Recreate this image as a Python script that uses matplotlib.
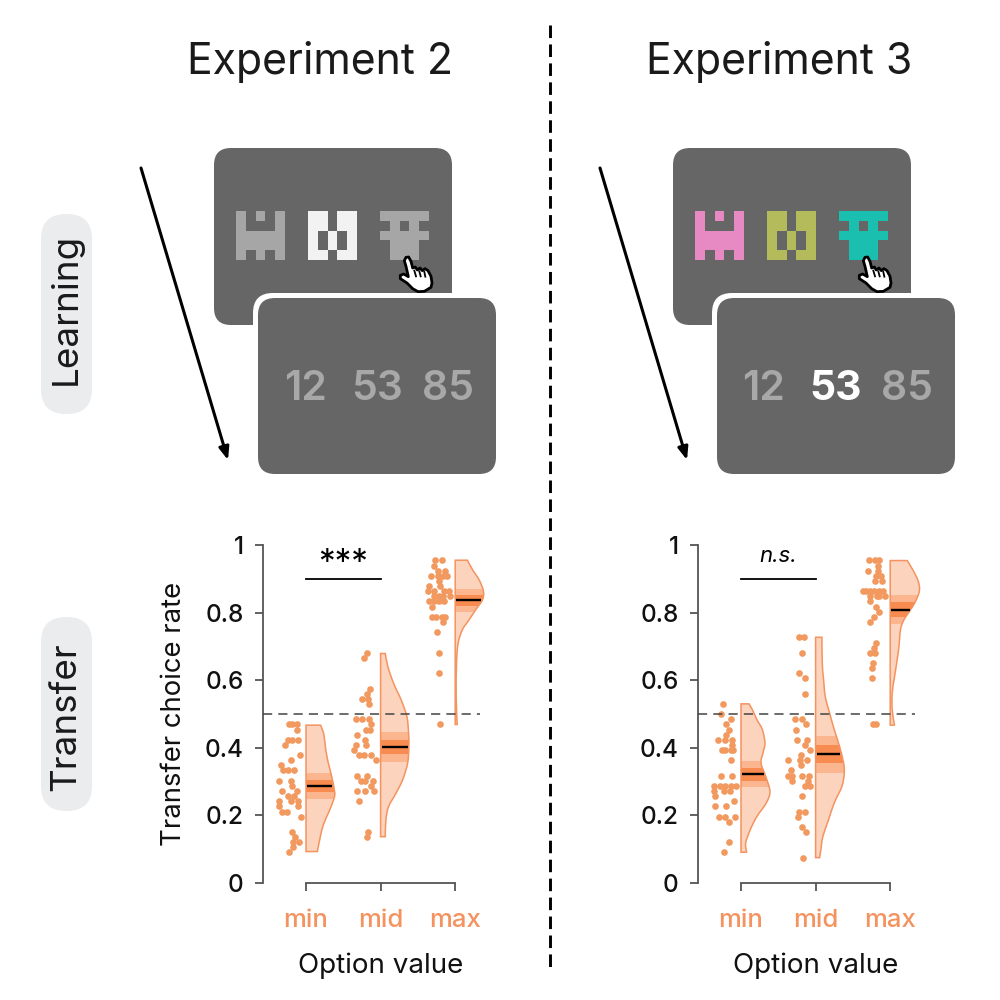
import matplotlib
matplotlib.use('Agg')
import matplotlib.pyplot as plt
import numpy as np
from matplotlib.patches import FancyBboxPatch, Polygon, PathPatch, Rectangle
from matplotlib.path import Path

plt.rcParams['font.family'] = ['Inter', 'DejaVu Sans']

# datos - experimento 2
exp2_min_x = [-.232, -.183, -.116, -.125, -.246, -.183, -.112, -.281, -.076, -.196, -.330, -.308, -.237, -.161,
              -.357, -.201, -.188, -.321, -.116, -.241, -.161, -.366, -.205, -.103, -.362, -.112, -.321, -.259,
              -.0625, -.183, -.152, -.179, -.094, -.170, -.223]
exp2_min_y = [.469, .469, .469, .454, .423, .423, .423, .408, .378, .363, .348, .333, .333, .333,
              .303, .303, .287, .272, .272, .257, .257, .242, .242, .242, .227, .227, .211, .211,
              .196, .151, .136, .120, .120, .106, .091]
exp2_mid_x = [-.183, -.228, -.147, -.1875, -.254, -.174, -.161, -.335, -.246, -.161, -.134, -.201, -.143, -.317,
              -.21, -.326, -.201, -.353, -.286, -.223, -.134, -.067, -.321, -.179, -.268, -.205, -.098, -.125,
              -.317, -.214, -.085, -.295, -.174, -.1875]
exp2_mid_y = [.681, .666, .575, .560, .545, .545, .530, .484, .484, .484, .469, .454, .454, .439,
              .424, .408, .408, .393, .378, .378, .378, .363, .318, .318, .303, .303, .303, .287,
              .272, .272, .272, .242, .151, .136]
exp2_max_x = [-.272, -.183, -.281, -.228, -.143, -.330, -.228, -.170, -.116, -.223, -.357, -.210, -.371, -.281,
              -.156, -.089, -.290, -.223, -.161, -.067, -.357, -.286, -.223, -.152, -.3125, -.317, -.254, -.183,
              -.134, -.170, -.25, -.214, -.214, -.210]
exp2_max_y = [.955, .955, .939, .924, .924, .908, .908, .908, .908, .893, .879, .879, .863, .863,
              .863, .863, .848, .848, .848, .848, .833, .833, .833, .833, .818, .787, .787, .787,
              .787, .772, .742, .681, .620, .469]

# datos - experimento 3
exp3_min_x = [-.241, -.263, -.134, -.201, -.165, -.205, -.304, -.210, -.125, -.116, -.254, -.210, -.134, -.107,
              -.138, -.272, -.125, -.362, -.277, -.214, -.134, -.067, -.357, -.228, -.143, -.353, -.098, -.344,
              -.201, -.299, -.214, -.085, -.156, -.156, -.223]
exp3_min_y = [.530, .500, .484, .469, .454, .439, .424, .424, .424, .408, .393, .393, .393, .393,
              .363, .318, .318, .287, .287, .287, .287, .287, .272, .272, .272, .257, .242, .227,
              .227, .196, .196, .196, .181, .120, .091]
exp3_mid_x = [-.223, -.152, -.187, -.223, -.147, -.147, -.277, -.187, -.125, -.268, -.25, -.121, -.143, -.076,
              -.192, -.366, -.205, -.116, -.196, -.335, -.375, -.321, -.179, -.094, -.321, -.098, -.138, -.071,
              -.187, -.223, -.147, -.232, -.187, -.125, -.174]
exp3_mid_y = [.727, .727, .681, .620, .606, .560, .484, .484, .469, .454, .424, .424, .408, .393,
              .378, .363, .363, .363, .348, .333, .318, .318, .318, .318, .303, .303, .287, .287,
              .257, .211, .211, .196, .166, .151, .075]
exp3_max_x = [-.281, -.210, -.147, -.170, -.299, -.161, -.196, -.129, -.210, -.112, -.366, -.330, -.272, -.219,
              -.156, -.103, -.268, -.174, -.152, -.067, -.277, -.196, -.156, -.214, -.277, -.196, -.223, -.272,
              -.201, -.237, -.246, -.241, -.228, -.192]
exp3_max_y = [.955, .955, .955, .939, .924, .924, .908, .908, .893, .893, .863, .863, .863, .863,
              .863, .863, .848, .848, .848, .848, .833, .818, .803, .787, .772, .711, .696, .681,
              .681, .651, .636, .606, .469, .469]

# perfiles de los violines
exp2_min_vy = [.467, .453, .438, .398, .359, .320, .270, .250, .211, .172, .132, .093]
exp2_min_vw = [.196, .220, .241, .263, .295, .339, .384, .375, .308, .232, .1875, .152]
exp2_mid_vy = [.679, .640, .591, .541, .492, .443, .403, .354, .305, .265, .226, .186, .137]
exp2_mid_vw = [.0625, .098, .174, .277, .353, .375, .379, .362, .295, .205, .107, .071, .0625]
exp2_max_vy = [.955, .927, .897, .863, .838, .809, .779, .750, .710, .651, .552, .469]
exp2_max_vw = [.165, .232, .321, .379, .366, .277, .1875, .098, .040, .018, .013, .027]
exp3_min_vy = [.530, .513, .483, .454, .414, .385, .355, .316, .271, .237, .197, .158, .118, .091]
exp3_min_vw = [.107, .152, .214, .286, .321, .295, .268, .330, .388, .339, .214, .125, .0625, .076]
exp3_mid_vy = [.727, .651, .602, .552, .503, .454, .404, .355, .325, .286, .237, .187, .138, .099, .075]
exp3_mid_vw = [.085, .089, .107, .129, .1875, .25, .321, .375, .384, .353, .25, .174, .098, .071, .054]
exp3_max_vy = [.954, .926, .896, .867, .837, .808, .778, .749, .689, .610, .561, .512, .467]
exp3_max_vw = [.228, .304, .371, .393, .348, .272, .183, .138, .112, .058, .027, .027, .058]

# media, error estandar, intervalo
exp2_means = [.288, .402, .836]
exp2_sem = [.018, .020, .017]
exp2_ci = [.038, .045, .034]
exp3_means = [.322, .381, .809]
exp3_sem = [.019, .027, .022]
exp3_ci = [.038, .055, .043]

conditions = ['min', 'mid', 'max']
y_ticks = [0, .2, .4, .6, .8, 1]
y_labels = ['0', '0.2', '0.4', '0.6', '0.8', '1']

ORANGE = '#f4935f'
FILL = '#fcd3bd'
LIGHT = '#fbb68f'
DARK = '#f78b50'
DOT = '#f2995f'
TEXTO = '#111111'


def curva(xs, ys):
    # catmull-rom pasado a bezier, pasa por los puntos dados
    pts = np.column_stack([xs, ys])
    verts = [pts[0]]
    for i in range(len(pts) - 1):
        p0 = pts[max(i - 1, 0)]
        p1 = pts[i]
        p2 = pts[i + 1]
        p3 = pts[min(i + 2, len(pts) - 1)]
        verts.append(p1 + (p2 - p0) / 6)
        verts.append(p2 - (p3 - p1) / 6)
        verts.append(p2)
    return verts


def dibujar_violin(ax, pos, vy, vw, mean, sem, ci):
    vx = [pos + w for w in vw]
    verts = [(pos, vy[0])] + curva(vx, vy) + [(pos, vy[-1]), (pos, vy[0])]
    codes = [Path.MOVETO, Path.LINETO] + [Path.CURVE4] * (3 * (len(vy) - 1)) + [Path.LINETO, Path.CLOSEPOLY]
    path = Path(verts, codes)
    ax.add_patch(PathPatch(path, facecolor=FILL, edgecolor='none', zorder=2))
    for half, col in ((ci, LIGHT), (sem, DARK)):
        r = Rectangle((pos, mean - half), .5, 2 * half, facecolor=col, edgecolor='none', zorder=3)
        ax.add_patch(r)
        r.set_clip_path(PathPatch(path, transform=ax.transData))
    ax.add_patch(PathPatch(path, facecolor='none', edgecolor=ORANGE, lw=1.1, zorder=4))
    ancho = np.interp(mean, vy[::-1], vw[::-1])
    ax.plot([pos + .015, pos + ancho - .015], [mean, mean], color='black', lw=1.7, zorder=5, solid_capstyle='butt')


def panel(x_px, datos, means, sem, ci, sig, sig_style):
    # x_px = pixel de la posicion 0 del eje x
    paso = 74.6
    izq = x_px - 43
    der = x_px + 200
    ax = fig.add_axes([izq / 1000, 1 - 883 / 1000, (der - izq) / 1000, 338 / 1000])
    ax.set_xlim(-43 / paso, 200 / paso)
    ax.set_ylim(0, 1)
    ax.patch.set_alpha(0)
    for i, (dx, dy, vy, vw) in enumerate(datos):
        ax.scatter(np.array(dx) + i, dy, s=23, color=DOT, linewidths=0, zorder=3)
        dibujar_violin(ax, i, vy, vw, means[i], sem[i], ci[i])
    ax.plot([-43 / paso, 174 / paso], [.5, .5], color='#444444', lw=1.1, dashes=(6, 4), zorder=6)
    ax.plot([0, 1], [.899, .899], color='black', lw=1.3)
    ax.text(.5, sig[1], sig[0], ha='center', va='center', clip_on=False, **sig_style)
    for s in ('top', 'right'):
        ax.spines[s].set_visible(False)
    for s in ('left', 'bottom'):
        ax.spines[s].set_color('#555555')
        ax.spines[s].set_linewidth(1.3)
    ax.spines['bottom'].set_bounds(0, 2)
    ax.set_yticks(y_ticks)
    ax.set_yticklabels(y_labels, fontsize=17.5, color=TEXTO, fontweight='medium')
    ax.set_xticks([0, 1, 2])
    ax.set_xticklabels(conditions, fontsize=18.5, color=ORANGE, fontweight='medium')
    ax.tick_params(axis='y', length=6, width=1.3, color='#555555', pad=8)
    ax.tick_params(axis='x', length=6, width=1.3, color='#555555', pad=13)
    ax.text(1, -.245, 'Option value', ha='center', va='center', fontsize=20, color=TEXTO,
            transform=ax.get_xaxis_transform())
    return ax


fig = plt.figure(figsize=(10, 10), dpi=100)
fondo = fig.add_axes([0, 0, 1, 1])
fondo.axis('off')

# linea central
fondo.plot([550, 550], [25, 972], color='black', lw=2.1, dashes=(4.3, 2.2))

# titulos
fondo.text(320, 62, 'Experiment 2', ha='center', va='center', fontsize=30.8, color='#1a1a1a')
fondo.text(779, 62, 'Experiment 3', ha='center', va='center', fontsize=30.8, color='#1a1a1a')

# etiquetas laterales
for y0, y1, y_txt, txt in ((214, 414, 309, 'Learning'), (617, 811, 717, 'Transfer')):
    fondo.add_patch(FancyBboxPatch((41 + 25, y0 + 25), 1, y1 - y0 - 50, boxstyle='round,pad=25,rounding_size=25',
                                   facecolor='#ebecee', edgecolor='none'))
    fondo.text(66, y_txt, txt, rotation=90, ha='center', va='center', fontsize=26.5, color='#1a1a1a')

fondo.text(174, 714, 'Transfer choice rate', rotation=90, ha='center', va='center', fontsize=19.8, color=TEXTO)

PATRONES = [
    [[1, 0, 1, 0, 1], [1, 0, 0, 0, 1], [1, 1, 1, 1, 1], [1, 1, 1, 1, 1], [1, 0, 1, 0, 1]],
    [[1, 1, 0, 1, 1], [1, 1, 0, 1, 1], [1, 0, 1, 0, 1], [1, 0, 1, 0, 1], [1, 1, 0, 1, 1]],
    [[1, 1, 1, 1, 1], [0, 1, 0, 1, 0], [1, 1, 1, 1, 1], [0, 1, 1, 1, 0], [0, 1, 1, 1, 0]],
]


def mano(dx):
    pts = [(42, 28), (50, 27), (57, 40), (62, 60), (70, 57), (76, 66), (84, 60), (91, 68), (99, 62), (108, 68),
           (117, 85), (120, 105), (117, 118), (97, 130), (78, 131), (62, 122), (45, 105), (25, 92), (25, 82),
           (35, 78), (49, 86), (42, 55), (37, 38)]
    pts = [(392 + dx + a / 3, 248 + b / 3) for a, b in pts]
    fondo.add_patch(Polygon(pts, closed=True, facecolor='white', edgecolor='black', lw=2, joinstyle='round', zorder=8))
    for (a, b, c, d) in ((67, 68, 72, 85), (82, 70, 86, 85), (97, 72, 100, 86)):
        fondo.plot([392 + dx + a / 3, 392 + dx + c / 3], [248 + b / 3, 248 + d / 3], color='black', lw=1.3, zorder=9)


def rect_redondo(x0, y0, w, h, radio, col, z):
    fondo.add_patch(FancyBboxPatch((x0 + radio, y0 + radio), w - 2 * radio, h - 2 * radio,
                                   boxstyle='round,pad=%g,rounding_size=%g' % (radio, radio),
                                   facecolor=col, edgecolor='none', zorder=z))


def pantallas(dx, colores, medio_blanco):
    rect_redondo(214 + dx, 148, 238, 177, 17, '#666666', 2)
    rect_redondo(253 + dx, 293, 248, 186, 20, 'white', 3)
    rect_redondo(258 + dx, 298, 238, 176, 17, '#666666', 3)
    for x0, pat, col in zip((236.3, 308.3, 380.3), PATRONES, colores):
        rgba = np.zeros((5, 5, 4))
        rgba[np.array(pat) == 1] = matplotlib.colors.to_rgba(col)
        fondo.imshow(rgba, extent=(x0 + dx, x0 + dx + 49, 260.5, 212), interpolation='nearest', aspect='auto', zorder=4)
    for x0, num in zip((305, 377, 448), ('12', '53', '85')):
        blanco = medio_blanco and num == '53'
        fondo.text(x0 + dx, 389, num, ha='center', va='center', fontsize=29.5, fontweight='bold' if blanco else 'semibold',
                   color='white' if blanco else '#a8a8a8', zorder=5)
    fondo.annotate('', xy=(228 + dx, 460), xytext=(141 + dx, 168),
                   arrowprops=dict(arrowstyle='-|>,head_width=.3,head_length=.75', color='black', lw=2.2, shrinkA=0, shrinkB=0))
    mano(dx)


pantallas(0, ['#a6a6a6', '#f2f2f2', '#a6a6a6'], False)
pantallas(459, ['#e78ac3', '#b3bb5a', '#1abfb0'], True)
fondo.set_xlim(0, 1000)
fondo.set_ylim(1000, 0)

panel(306, [(exp2_min_x, exp2_min_y, exp2_min_vy, exp2_min_vw),
            (exp2_mid_x, exp2_mid_y, exp2_mid_vy, exp2_mid_vw),
            (exp2_max_x, exp2_max_y, exp2_max_vy, exp2_max_vw)],
      exp2_means, exp2_sem, exp2_ci, ('***', .945), dict(fontsize=24, color='black'))
panel(741, [(exp3_min_x, exp3_min_y, exp3_min_vy, exp3_min_vw),
            (exp3_mid_x, exp3_mid_y, exp3_mid_vy, exp3_mid_vw),
            (exp3_max_x, exp3_max_y, exp3_max_vy, exp3_max_vw)],
      exp3_means, exp3_sem, exp3_ci, ('n.s.', .968), dict(fontsize=16, style='italic', color='black'))

fig.savefig('out.png', dpi=100)
